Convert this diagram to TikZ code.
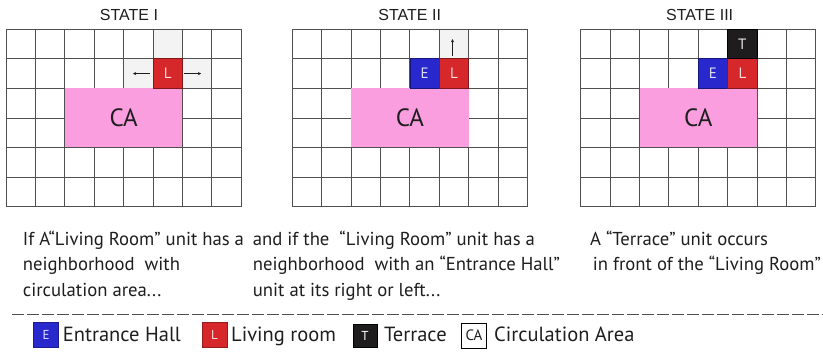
\documentclass[tikz,border=0pt]{standalone}
\usepackage{fontspec}
\setmainfont{PT Sans}
\newfontfamily\titlefont{Liberation Sans}
\usetikzlibrary{arrows.meta}
\definecolor{redL}{RGB}{214,40,42}
\definecolor{blueE}{RGB}{40,40,205}
\definecolor{blackT}{RGB}{30,28,28}
\definecolor{pinkCA}{RGB}{250,158,224}
\definecolor{grayC}{RGB}{243,243,243}
\definecolor{gridC}{RGB}{80,80,80}
\definecolor{txt}{RGB}{30,30,30}
\def\cw{29.4}
\def\ch{29.55}
\tikzset{
  gridl/.style={draw=gridC, line width=0.85pt},
  cafill/.style={fill=pinkCA, inner sep=0, minimum width={4*\cw}, minimum height={2*\ch}, font=\fontsize{25}{25}\selectfont, text=txt},
  room/.style={inner sep=0, minimum width={\cw}, minimum height={\ch}, font=\fontsize{15}{15}\selectfont, line width=0.8pt},
  roomL/.style={room, fill=redL, draw=redL!60!black, text=white!85!redL},
  roomE/.style={room, fill=blueE, draw=blueE!60!black, text=white!85!blueE},
  roomT/.style={room, fill=blackT, draw=black, text=white!90!blackT},
  arr/.style={draw=txt, line width=0.6pt, -{Stealth[length=3.2pt,width=3.2pt]}},
  title/.style={font=\titlefont\fontsize{16}{16}\selectfont, text=txt, anchor=base},
  desc/.style={font=\fontsize{18.7}{19}\selectfont, text=txt, anchor=base west, inner sep=0},
  leg/.style={font=\fontsize{20.5}{21}\selectfont, text=txt, anchor=base west, inner sep=0},
  legbox/.style={inner sep=0, minimum width=25pt, minimum height=25pt, font=\fontsize{13}{13}\selectfont},
  sepline/.style={draw=gridC, line width=1pt, dash pattern=on 11.5pt off 3.5pt}
}
\begin{document}
\begin{tikzpicture}[x=1pt,y=-1pt]
\useasboundingbox (0,0) rectangle (823,352);
\fill[white] (0,0) rectangle (823,352);

% ---------- State I ----------
\node[title] (t1) at (129,20.5) {STATE I};
\begin{scope}[shift={(6,29.3)}]
  \fill[grayC] (5*\cw,0) rectangle (6*\cw,\ch);
  \fill[grayC] (4*\cw,\ch) rectangle (5*\cw,2*\ch);
  \fill[grayC] (6*\cw,\ch) rectangle (7*\cw,2*\ch);
  \foreach \i in {0,...,8} \draw[gridl] (\i*\cw,0) -- (\i*\cw,6*\ch);
  \foreach \j in {0,...,6} \draw[gridl] (0,\j*\ch) -- (8*\cw,\j*\ch);
  \node[cafill] (CA1) at (4*\cw,3*\ch) {CA};
  \node[roomL] (L1) at (5.5*\cw,1.5*\ch) {L};
\end{scope}
\draw[arr] ([xshift=-3pt]L1.west) -- ([xshift=-19.6pt]L1.west);
\draw[arr] ([xshift=1.6pt]L1.east) -- ([xshift=18.3pt]L1.east);

% ---------- State II ----------
\node[title] (t2) at (409.7,20.5) {STATE II};
\begin{scope}[shift={(292.3,29.3)}]
  \fill[grayC] (5*\cw,0) rectangle (6*\cw,\ch);
  \foreach \i in {0,...,8} \draw[gridl] (\i*\cw,0) -- (\i*\cw,6*\ch);
  \foreach \j in {0,...,6} \draw[gridl] (0,\j*\ch) -- (8*\cw,\j*\ch);
  \node[cafill] (CA2) at (4*\cw,3*\ch) {CA};
  \node[roomE] (E2) at (4.5*\cw,1.5*\ch) {E};
  \node[roomL] (L2) at (5.5*\cw,1.5*\ch) {L};
\end{scope}
\draw[arr] ([xshift=-1.5pt,yshift=2.6pt]L2.north) -- ([xshift=-1.5pt,yshift=19.3pt]L2.north);

% ---------- State III ----------
\node[title] (t3) at (699.7,20.5) {STATE III};
\begin{scope}[shift={(580.7,29.3)}]
  \foreach \i in {0,...,8} \draw[gridl] (\i*\cw,0) -- (\i*\cw,6*\ch);
  \foreach \j in {0,...,6} \draw[gridl] (0,\j*\ch) -- (8*\cw,\j*\ch);
  \node[cafill] (CA3) at (4*\cw,3*\ch) {CA};
  \node[roomE] (E3) at (4.5*\cw,1.5*\ch) {E};
  \node[roomL] (L3) at (5.5*\cw,1.5*\ch) {L};
  \node[roomT] (T3) at (5.5*\cw,0.5*\ch) {T};
\end{scope}

% ---------- Descriptions ----------
\node[desc] (d11) at (22.7,245.5) {If A“Living Room” unit has a};
\node[desc] (d12) at (22.7,271) {neighborhood\ \ with};
\node[desc] (d13) at (22.7,297) {circulation area...};

\node[desc] (d21) at (252.7,245.5) {and if the\ \ “Living Room” unit has a};
\node[desc] (d22) at (252.7,271) {neighborhood\ \ with an “Entrance Hall”};
\node[desc] (d23) at (252.7,297) {unit at its right or left...};

\node[desc] (d31) at (590,245.5) {A “Terrace” unit occurs};
\node[desc] (d32) at (592.7,271) {in front of the “Living Room”};

% ---------- Separator ----------
\coordinate (s1) at (12,315);
\coordinate (s2) at (823,315);
\draw[sepline] (s1) -- (s2);

% ---------- Legend ----------
\node[legbox, fill=blueE, draw=blueE!70!black, text=white!85!blueE] (lgE) at (46,335) {E};
\node[leg] (lgEt) at (62.7,341.7) {Entrance Hall};
\node[legbox, fill=redL, draw=redL!70!black, text=white!85!redL] (lgL) at (214.5,335) {L};
\node[leg] (lgLt) at (231,341.7) {Living room};
\node[legbox, fill=blackT, draw=black, text=white, minimum width=24pt, minimum height=23pt] (lgT) at (365,336) {T};
\node[leg] (lgTt) at (384,341.7) {Terrace};
\node[legbox, fill=white, draw=black, line width=0.6pt, text=txt, font=\fontsize{15}{15}\selectfont] (lgC) at (474,335.5) {CA};
\node[leg] (lgCt) at (494,341.7) {Circulation Area};
\end{tikzpicture}
\end{document}
